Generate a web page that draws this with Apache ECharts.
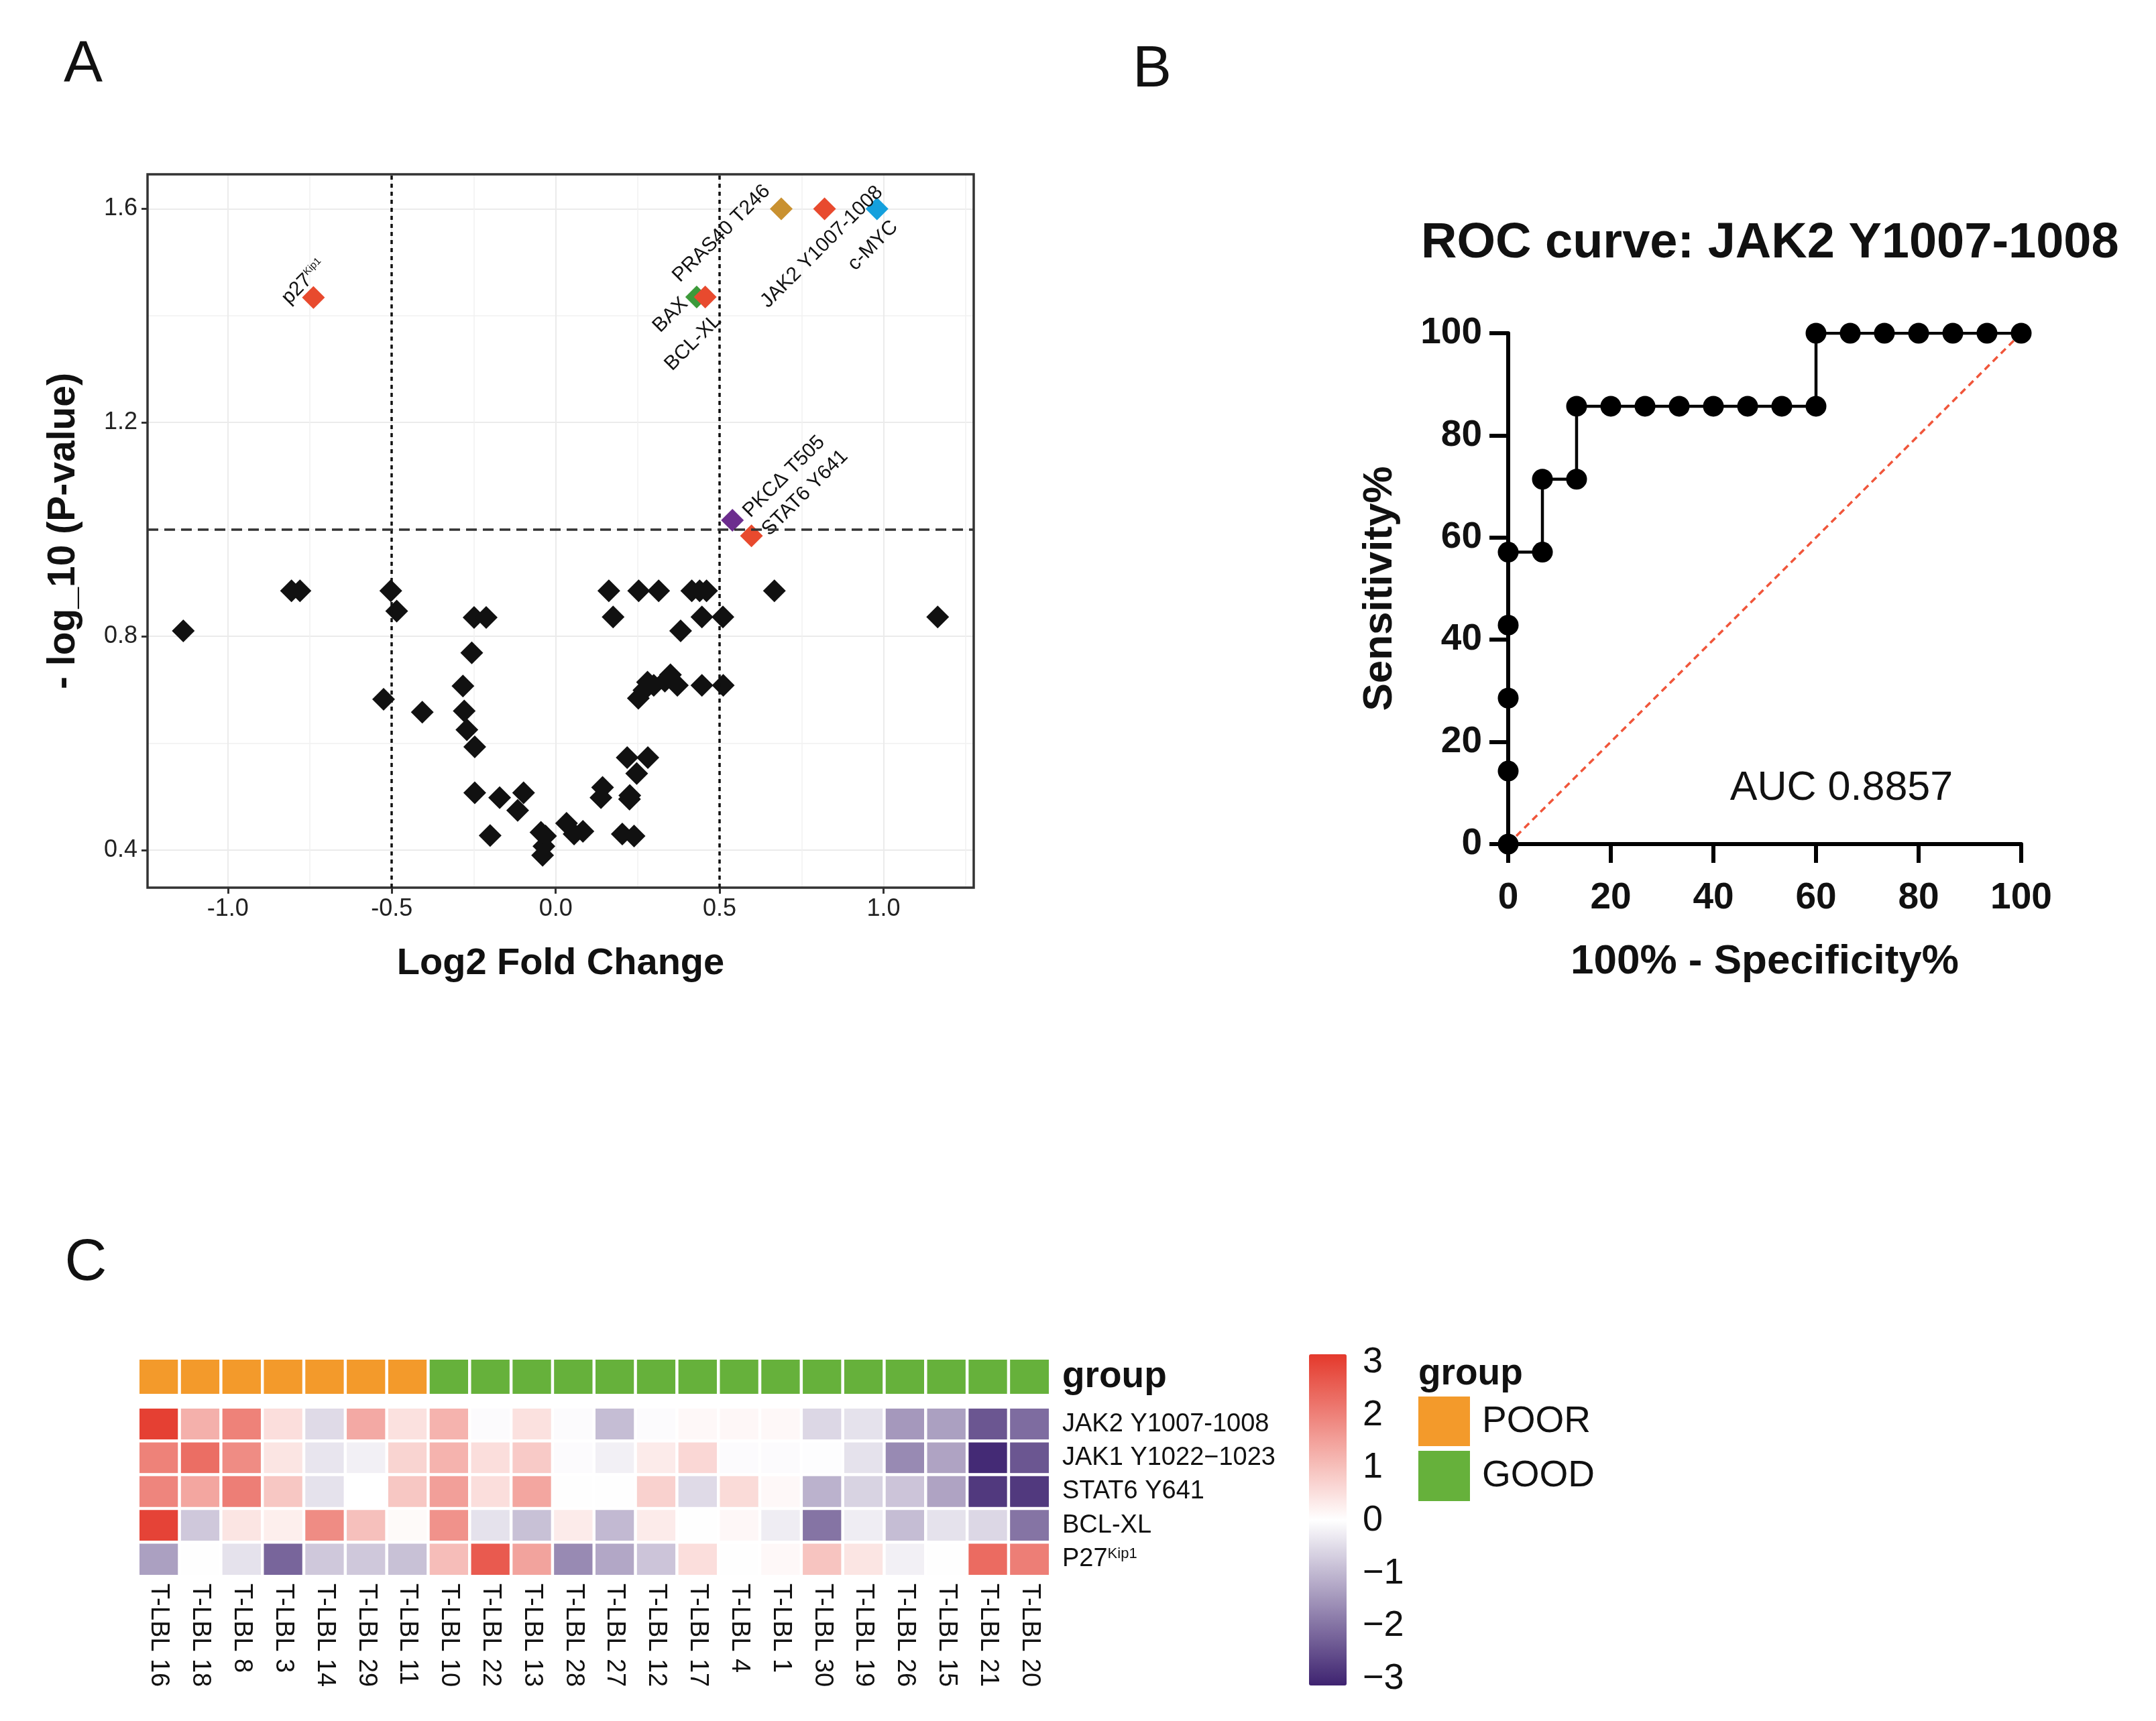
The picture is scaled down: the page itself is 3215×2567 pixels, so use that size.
<!DOCTYPE html>
<html><head><meta charset="utf-8">
<script src="https://cdn.jsdelivr.net/npm/echarts@6/dist/echarts.min.js"></script>
<style>html,body{margin:0;padding:0;background:#fff}#c{width:3215px;height:2567px}</style>
</head><body><div id="c"></div><script>
// ---------- Panel A: volcano data ----------
const bgLog2FC = [-1.136,-0.806,-0.780,-0.503,-0.485,-0.249,-0.212,-0.256,-0.283,-0.525,-0.407,-0.279,-0.271,-0.247,-0.247,-0.171,-0.098,-0.116,-0.200,-0.045,-0.031,-0.036,-0.040,0.033,0.056,0.083,0.143,0.138,0.162,0.175,0.253,0.314,0.415,0.439,0.460,0.667,0.446,0.510,0.381,1.165,0.350,0.333,0.371,0.299,0.280,0.269,0.252,0.446,0.511,0.218,0.281,0.247,0.226,0.225,0.203,0.239];
const bgNegLogP = [0.810,0.885,0.885,0.885,0.847,0.835,0.835,0.769,0.707,0.682,0.658,0.660,0.625,0.593,0.507,0.498,0.507,0.474,0.427,0.433,0.426,0.407,0.390,0.450,0.430,0.435,0.517,0.498,0.885,0.836,0.885,0.885,0.885,0.885,0.885,0.885,0.836,0.836,0.810,0.836,0.728,0.716,0.708,0.708,0.714,0.699,0.684,0.708,0.708,0.573,0.573,0.543,0.502,0.495,0.430,0.426];
const hitNames = ['BAX','BCL-XL','PRAS40 T246','JAK2 Y1007-1008','c-MYC','PKC\u0394 T505','STAT6 Y641','p27Kip1'];
const hitLog2FC = [0.430,0.456,0.688,0.820,0.980,0.539,0.597,-0.739];
const hitNegLogP = [1.435,1.435,1.600,1.600,1.600,1.017,0.988,1.434];
const fcThresholds = [-0.5, 0.5];
const pThreshold = 1.0;
const volcanoXTicks = [-1.0,-0.5,0.0,0.5,1.0];
const volcanoYTicks = [0.4,0.8,1.2,1.6];

// ---------- Panel B: ROC data ----------
const rocFPR = [0,0,0,0,0,6.67,6.67,13.33,13.33,20,26.67,33.33,40,46.67,53.33,60,60,66.67,73.33,80,86.67,93.33,100];
const rocTPR = [0,14.29,28.57,42.86,57.14,57.14,71.43,71.43,85.71,85.71,85.71,85.71,85.71,85.71,85.71,85.71,100,100,100,100,100,100,100];
const rocDiag = [[0,0],[100,100]];
const aucText = 'AUC 0.8857';

// ---------- Panel C: heatmap data ----------
const sampleNames = ['T-LBL 16','T-LBL 18','T-LBL 8','T-LBL 3','T-LBL 14','T-LBL 29','T-LBL 11','T-LBL 10','T-LBL 22','T-LBL 13','T-LBL 28','T-LBL 27','T-LBL 12','T-LBL 17','T-LBL 4','T-LBL 1','T-LBL 30','T-LBL 19','T-LBL 26','T-LBL 15','T-LBL 21','T-LBL 20'];
const sampleGroup = [0,0,0,0,0,0,0,1,1,1,1,1,1,1,1,1,1,1,1,1,1,1];
const groupNames = ['POOR','GOOD'];
const rowNames = ['JAK2 Y1007-1008','JAK1 Y1022\u22121023','STAT6 Y641','BCL-XL','P27Kip1'];
const jak2Vals  = [2.9,1.2,1.9,0.5,-0.5,1.3,0.45,1.15,-0.05,0.45,-0.05,-0.9,-0.05,0.1,0.12,0.1,-0.55,-0.4,-1.4,-1.3,-2.3,-2.0];
const jak1Vals  = [1.9,2.2,1.75,0.4,-0.35,-0.2,0.65,1.15,0.5,0.8,-0.05,-0.2,0.3,0.6,-0.05,-0.05,-0.03,-0.4,-1.6,-1.25,-2.9,-2.3];
const stat6Vals = [1.85,1.35,1.95,0.85,-0.4,0,0.85,1.45,0.5,1.35,-0.02,-0.02,0.7,-0.5,0.55,0.1,-1.05,-0.6,-0.8,-1.25,-2.7,-2.7];
const bclxlVals = [2.85,-0.75,0.4,0.25,1.75,0.95,0.08,1.65,-0.4,-0.85,0.3,-0.95,0.3,-0.02,0.12,-0.25,-1.9,-0.25,-0.9,-0.4,-0.55,-1.9];
const p27Vals   = [-1.3,-0.02,-0.4,-2.1,-0.75,-0.75,-0.85,1.0,2.5,1.4,-1.6,-1.2,-0.8,0.5,-0.02,0.1,0.9,0.4,-0.2,-0.02,2.25,1.95];
const colorbarTicks = [-3,-2,-1,0,1,2,3];

// ---------- styles ----------
const FONT = '"Liberation Sans", Arial, Helvetica, sans-serif';
const hitColors = {'BAX':'#3C9A3A','BCL-XL':'#E84A2E','PRAS40 T246':'#C99130','JAK2 Y1007-1008':'#E84A2E','c-MYC':'#14A0DD','PKC\u0394 T505':'#6C2D8E','STAT6 Y641':'#E84A2E','p27Kip1':'#E84A2E'};
const hitLabelShift = {'BAX':[-39,27],'BCL-XL':[-18,68],'PRAS40 T246':[-89,37],'JAK2 Y1007-1008':[-4,57],'c-MYC':[-6,55],'PKC\u0394 T505':[77,-65],'STAT6 Y641':[80,-64],'p27Kip1':[-14,-23]};
const groupColors = ['#F39A2B','#66B13B'];
const heatColors = ['#3E2370','#FFFFFF','#E4392C'];

function rot45(d){ const k=Math.SQRT1_2; return [k*(d[0]-d[1]), k*(d[0]+d[1])]; }

const bgData = bgLog2FC.map((x,i)=>[x,bgNegLogP[i]]);
const hitData = hitNames.map((n,i)=>({
  name:n, value:[hitLog2FC[i],hitNegLogP[i]],
  itemStyle:{color:hitColors[n], opacity:1},
  label:{show:true, position:'inside', rotate:45, align:'center', verticalAlign:'middle',
    offset:rot45(hitLabelShift[n]), fontSize:30, color:'#111', fontFamily:FONT,
    formatter: n==='p27Kip1' ? '{a|p27}{s|Kip1}' : n,
    rich:{a:{fontSize:30,color:'#111',fontFamily:FONT}, s:{fontSize:15,color:'#111',verticalAlign:'top',fontFamily:FONT}}}
}));

const rocData = rocFPR.map((x,i)=>[x,rocTPR[i]]);
const rowVals = [jak2Vals,jak1Vals,stat6Vals,bclxlVals,p27Vals];
const heatData = [];
rowVals.forEach((arr,r)=>arr.forEach((v,c)=>heatData.push([c,r,v])));
const groupData = sampleGroup.map((g,c)=>[c,0,g]);

const minusFmt = v => v<0 ? '\u2212'+Math.abs(v) : String(v);

const chart = echarts.init(document.getElementById('c'), null, {renderer:'canvas'});
chart.setOption({
  animation:false,
  backgroundColor:'#fff',
  textStyle:{fontFamily:FONT},
  title:[{text:'ROC curve: JAK2 Y1007-1008', left:2119, top:327, padding:0,
    textStyle:{fontSize:74, fontWeight:'bold', color:'#111', fontFamily:FONT}}],
  grid:[
    {left:220, top:260, width:1232, height:1064, show:true, borderColor:'#333', borderWidth:3.5, backgroundColor:'transparent', z:3, outerBoundsMode:'none'},
    {left:2249, top:497, width:765, height:762, outerBoundsMode:'none'},
    {left:206, top:2026, width:1360, height:55, outerBoundsMode:'none'},
    {left:206, top:2099, width:1360, height:252, outerBoundsMode:'none'},
    {left:1952, top:2032, width:56, height:472, outerBoundsMode:'none'}
  ],
  xAxis:[
    {gridIndex:0, type:'value', min:-1.245, max:1.275, minInterval:0.5, maxInterval:0.5,
     axisLine:{show:false, onZero:false},
     axisTick:{show:true, customValues:volcanoXTicks, length:9, lineStyle:{color:'#333', width:3}},
     axisLabel:{customValues:volcanoXTicks, formatter:v=>v.toFixed(1), fontSize:36, color:'#222', margin:14},
     splitLine:{show:true, lineStyle:{color:'#EBEBEB', width:2}},
     minorTick:{show:false, splitNumber:2},
     minorSplitLine:{show:true, lineStyle:{color:'#F1F1F1', width:1.5}},
     name:'Log2 Fold Change', nameLocation:'middle', nameGap:86,
     nameTextStyle:{fontSize:56, fontWeight:'bold', color:'#111', fontFamily:FONT}},
    {gridIndex:1, type:'value', min:0, max:100, interval:20,
     axisLine:{show:true, onZero:false, lineStyle:{color:'#000', width:6}},
     axisTick:{show:true, length:28, lineStyle:{color:'#000', width:6}},
     axisLabel:{fontSize:55, fontWeight:'bold', color:'#111', margin:53},
     splitLine:{show:false},
     name:'100% - Specificity%', nameLocation:'middle', nameGap:145,
     nameTextStyle:{fontSize:62, fontWeight:'bold', color:'#111', fontFamily:FONT}},
    {gridIndex:2, type:'category', data:sampleNames, show:false},
    {gridIndex:3, type:'category', data:sampleNames,
     axisLine:{show:false}, axisTick:{show:false},
     axisLabel:{interval:0, rotate:-90, fontSize:38, color:'#111', margin:11}},
    {gridIndex:4, type:'value', show:false, min:0, max:1}
  ],
  yAxis:[
    {gridIndex:0, type:'value', min:0.3295, max:1.6645, minInterval:0.4, maxInterval:0.4,
     axisLine:{show:false, onZero:false},
     axisTick:{show:true, customValues:volcanoYTicks, length:9, lineStyle:{color:'#333', width:3}},
     axisLabel:{customValues:volcanoYTicks, formatter:v=>v.toFixed(1), fontSize:36, color:'#222', margin:15},
     splitLine:{show:true, lineStyle:{color:'#EBEBEB', width:2}},
     minorTick:{show:false, splitNumber:2},
     minorSplitLine:{show:true, lineStyle:{color:'#F1F1F1', width:1.5}},
     name:'- log_10 (P-value)', nameLocation:'middle', nameGap:96,
     nameTextStyle:{fontSize:57, fontWeight:'bold', color:'#111', fontFamily:FONT}},
    {gridIndex:1, type:'value', min:0, max:100, interval:20,
     axisLine:{show:true, onZero:false, lineStyle:{color:'#000', width:6}},
     axisTick:{show:true, length:28, lineStyle:{color:'#000', width:6}},
     axisLabel:{fontSize:55, fontWeight:'bold', color:'#111', margin:39},
     splitLine:{show:false},
     name:'Sensitivity%', nameLocation:'middle', nameGap:160,
     nameTextStyle:{fontSize:62, fontWeight:'bold', color:'#111', fontFamily:FONT}},
    {gridIndex:2, type:'category', data:['group'], position:'right',
     axisLine:{show:false}, axisTick:{show:false},
     axisLabel:{fontSize:55, fontWeight:'bold', color:'#111', margin:18}},
    {gridIndex:3, type:'category', data:rowNames, inverse:true, position:'right',
     axisLine:{show:false}, axisTick:{show:false},
     axisLabel:{fontSize:38, color:'#111', margin:18,
       formatter:v=> v==='P27Kip1' ? '{n|P27}{s|Kip1}' : v,
       rich:{n:{fontSize:38,color:'#111',fontFamily:FONT}, s:{fontSize:22,color:'#111',verticalAlign:'top',fontFamily:FONT}}}},
    {gridIndex:4, type:'value', min:-3, max:3, interval:1, position:'right',
     axisLine:{show:false}, axisTick:{show:false}, splitLine:{show:false},
     axisLabel:{fontSize:54, color:'#111', margin:24, formatter:minusFmt, customValues:colorbarTicks}}
  ],
  visualMap:[
    {type:'continuous', seriesIndex:5, min:-3, max:3, calculable:false, show:true,
     orient:'vertical', left:1952, top:2020, itemWidth:56, itemHeight:494, padding:0,
     text:null, inRange:{color:heatColors}},
    {type:'piecewise', seriesIndex:4, show:false,
     pieces:[{value:0, color:groupColors[0]},{value:1, color:groupColors[1]}]}
  ],
  series:[
    {type:'scatter', xAxisIndex:0, yAxisIndex:0, data:bgData, symbol:'diamond', symbolSize:34,
     itemStyle:{color:'#111', opacity:1}, z:2, silent:true,
     markLine:{symbol:'none', silent:true, label:{show:false},
       data:[
         {xAxis:fcThresholds[0], lineStyle:{color:'#111', width:3.5, type:[6,6]}},
         {xAxis:fcThresholds[1], lineStyle:{color:'#111', width:3.5, type:[6,6]}},
         {yAxis:pThreshold, lineStyle:{color:'#333', width:3.5, type:[16,9]}}
       ]}},
    {type:'scatter', xAxisIndex:0, yAxisIndex:0, data:hitData, symbol:'diamond', symbolSize:34, z:4, silent:true,
     itemStyle:{opacity:1}},
    {type:'line', xAxisIndex:1, yAxisIndex:1, data:rocDiag, symbol:'none', silent:true,
     lineStyle:{color:'#F0553A', width:3.5, type:[10,7]}, z:1},
    {type:'line', xAxisIndex:1, yAxisIndex:1, data:rocData, symbol:'circle', symbolSize:31,
     itemStyle:{color:'#000', opacity:1}, lineStyle:{color:'#000', width:4.5}, z:3, silent:true},
    {type:'heatmap', xAxisIndex:2, yAxisIndex:2, data:groupData,
     itemStyle:{borderColor:'#fff', borderWidth:4.5}, emphasis:{disabled:true}, silent:true},
    {type:'heatmap', xAxisIndex:3, yAxisIndex:3, data:heatData,
     itemStyle:{borderColor:'#fff', borderWidth:4.5}, emphasis:{disabled:true}, silent:true}
  ],
  graphic:[
    {type:'text', x:124, y:98, style:{text:'A', fontSize:87, fontFamily:FONT, fill:'#111', align:'center', verticalAlign:'middle'}},
    {type:'text', x:1718, y:105, style:{text:'B', fontSize:87, fontFamily:FONT, fill:'#111', align:'center', verticalAlign:'middle'}},
    {type:'text', x:128, y:1885, style:{text:'C', fontSize:87, fontFamily:FONT, fill:'#111', align:'center', verticalAlign:'middle'}},
    {type:'text', x:2746, y:1176, style:{text:aucText, fontSize:61, fontFamily:FONT, fill:'#111', align:'center', verticalAlign:'middle'}},
    {type:'text', x:2115, y:2050, style:{text:'group', fontSize:55, fontWeight:'bold', fontFamily:FONT, fill:'#111', align:'left', verticalAlign:'middle'}},
    {type:'rect', shape:{x:2115, y:2083, width:77, height:74}, style:{fill:groupColors[0]}},
    {type:'rect', shape:{x:2115, y:2164, width:77, height:75}, style:{fill:groupColors[1]}},
    {type:'text', x:2210, y:2121, style:{text:groupNames[0], fontSize:55, fontFamily:FONT, fill:'#111', align:'left', verticalAlign:'middle'}},
    {type:'text', x:2210, y:2202, style:{text:groupNames[1], fontSize:55, fontFamily:FONT, fill:'#111', align:'left', verticalAlign:'middle'}}
  ]
});
</script></body></html>
